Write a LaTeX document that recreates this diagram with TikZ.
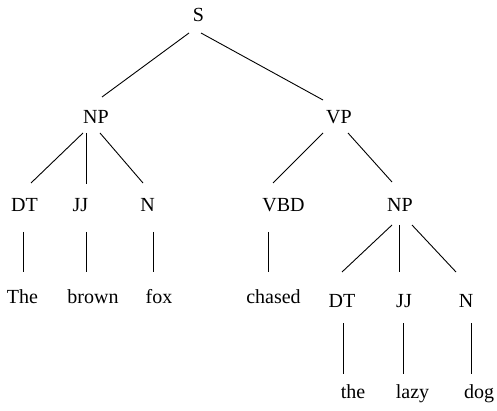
\documentclass[tikz,border=0pt]{standalone}
\usepackage{fontspec}
\setmainfont{Liberation Serif}
\begin{document}
\begin{tikzpicture}[x=1pt,y=-1pt,
  lbl/.style={anchor=base,inner sep=0pt,font=\fontsize{20}{22}\selectfont},
  branch/.style={draw=black,line width=0.9pt}]
\useasboundingbox (0,0) rectangle (497,411);

% constituent labels
\node[lbl] (s)   at (198.5,22) {S};
\node[lbl] (np1) at (96,124)   {NP};
\node[lbl] (vp)  at (339,124)  {VP};
\node[lbl] (dt1) at (24.5,212) {DT};
\node[lbl] (jj1) at (80.5,212) {JJ};
\node[lbl] (n1)  at (147.5,212) {N};
\node[lbl] (vbd) at (283.5,212) {VBD};
\node[lbl] (np2) at (400,212)  {NP};
\node[lbl] (dt2) at (342,307)  {DT};
\node[lbl] (jj2) at (404,307)  {JJ};
\node[lbl] (n2)  at (466,307)  {N};

% words
\node[lbl] (w1) at (22.5,303)  {The};
\node[lbl] (w2) at (93,303)    {brown};
\node[lbl] (w3) at (159,303)   {fox};
\node[lbl] (w4) at (273.5,303) {chased};
\node[lbl] (w5) at (353,398)   {the};
\node[lbl] (w6) at (412.5,398) {lazy};
\node[lbl] (w7) at (479,398)   {dog};

% branches
\draw[branch] ([shift={(-9.5,11)}]s.base) -- ([shift={(6,-27)}]np1.base);
\draw[branch] ([shift={(2.5,11)}]s.base) -- ([shift={(-16,-24)}]vp.base);
\draw[branch] ([shift={(-13,9)}]np1.base) -- ([shift={(6.5,-29)}]dt1.base);
\draw[branch] ([shift={(-10,9)}]np1.base) -- ([shift={(5.5,-28)}]jj1.base);
\draw[branch] ([shift={(4,9)}]np1.base) -- ([shift={(-4.5,-29)}]n1.base);
\draw[branch] ([shift={(-16,9)}]vp.base) -- ([shift={(-10.5,-29)}]vbd.base);
\draw[branch] ([shift={(9,9)}]vp.base) -- ([shift={(-8,-30)}]np2.base);
\draw[branch] ([shift={(-1.5,20)}]dt1.base) -- ([shift={(0.5,-31)}]w1.base);
\draw[branch] ([shift={(5.5,20)}]jj1.base) -- ([shift={(-7,-31)}]w2.base);
\draw[branch] ([shift={(5.5,20)}]n1.base) -- ([shift={(-6,-31)}]w3.base);
\draw[branch] ([shift={(-15.5,20)}]vbd.base) -- ([shift={(-5.5,-31)}]w4.base);
\draw[branch] ([shift={(-8,13)}]np2.base) -- ([shift={(0,-35)}]dt2.base);
\draw[branch] ([shift={(-1,13)}]np2.base) -- ([shift={(-5,-35)}]jj2.base);
\draw[branch] ([shift={(12,13)}]np2.base) -- ([shift={(-10,-35)}]n2.base);
\draw[branch] ([shift={(1,16)}]dt2.base) -- ([shift={(-10,-24)}]w5.base);
\draw[branch] ([shift={(-1,16)}]jj2.base) -- ([shift={(-9.5,-24)}]w6.base);
\draw[branch] ([shift={(5,16)}]n2.base) -- ([shift={(-8,-24)}]w7.base);
\end{tikzpicture}
\end{document}
